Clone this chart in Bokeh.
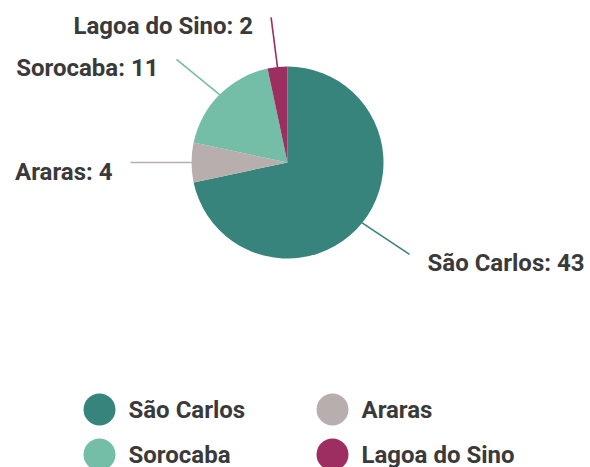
import math
from bokeh.plotting import figure
from bokeh.models import Range1d, ColumnDataSource
from bokeh.core.properties import value
from bokeh.embed import file_html
from bokeh.resources import INLINE

# ---- data ----
categories = ["São Carlos", "Araras", "Sorocaba", "Lagoa do Sino"]
counts = [43, 4, 11, 2]
colors = ["#36847B", "#B9AEAE", "#74BDA6", "#9C2E62"]

# ---- layout (page pixels) ----
W, H = 590, 467
CX, CY = 287, 162          # pie centre on the page
R = 96                     # pie radius
RX_LINE, RY_LINE = 157, 146  # end of the link lines
TEXT_OFF = 18
FONT = "Roboto"
TEXT_COLOR = "#3a3a3a"

p = figure(width=W, height=H, output_backend="svg", toolbar_location=None,
           x_range=Range1d(-CX, W - CX), y_range=Range1d(CY - H, CY),
           x_axis_type=None, y_axis_type=None, min_border=0)
p.grid.visible = False
p.outline_line_color = None
p.background_fill_color = "white"

total = sum(counts)
starts, ends, mids = [], [], []
cum = 0
for c in counts:
    a0 = math.pi / 2 - 2 * math.pi * cum / total
    cum += c
    a1 = math.pi / 2 - 2 * math.pi * cum / total
    starts.append(a0)
    ends.append(a1)
    mids.append((a0 + a1) / 2)

src = ColumnDataSource(dict(cat=categories, val=counts, color=colors,
                            start=starts, end=ends))
p.wedge(x=0, y=0, radius=R, start_angle="start", end_angle="end",
        direction="clock", fill_color="color", line_color=None, source=src)

# link lines and labels
x0 = [R * math.cos(m) for m in mids]
y0 = [R * math.sin(m) for m in mids]
x1 = [RX_LINE * math.cos(m) for m in mids]
y1 = [RY_LINE * math.sin(m) for m in mids]
p.segment(x0=x0, y0=y0, x1=x1, y1=y1, line_color=colors, line_width=1.6)

labels = [f"{c}: {v}" for c, v in zip(categories, counts)]
tx = [x + (TEXT_OFF if math.cos(m) > 0 else -TEXT_OFF) for x, m in zip(x1, mids)]
ty = [y + 5 for y in y1]
align = ["left" if math.cos(m) > 0 else "right" for m in mids]
lsrc = ColumnDataSource(dict(x=tx, y=ty, text=labels, align=align))
p.text(x="x", y="y", text="text", text_align="align", text_baseline="top",
       text_font=value(FONT), text_font_style="bold", text_font_size="24px",
       text_color=TEXT_COLOR, source=lsrc)

# legend (2 columns)
LEG_X = [99, 332]
LEG_Y = [409, 454]
lx = [LEG_X[i % 2] - CX for i in range(len(categories))]
ly = [CY - LEG_Y[i // 2] for i in range(len(categories))]
p.scatter(x=lx, y=ly, size=32, fill_color=colors, line_color=None)
p.text(x=[x + 29 for x in lx], y=ly, text=categories, text_align="left",
       text_baseline="middle", text_font=value(FONT), text_font_style="bold",
       text_font_size="24px", text_color=TEXT_COLOR)

open("out.html", "w").write(file_html(p, INLINE))
